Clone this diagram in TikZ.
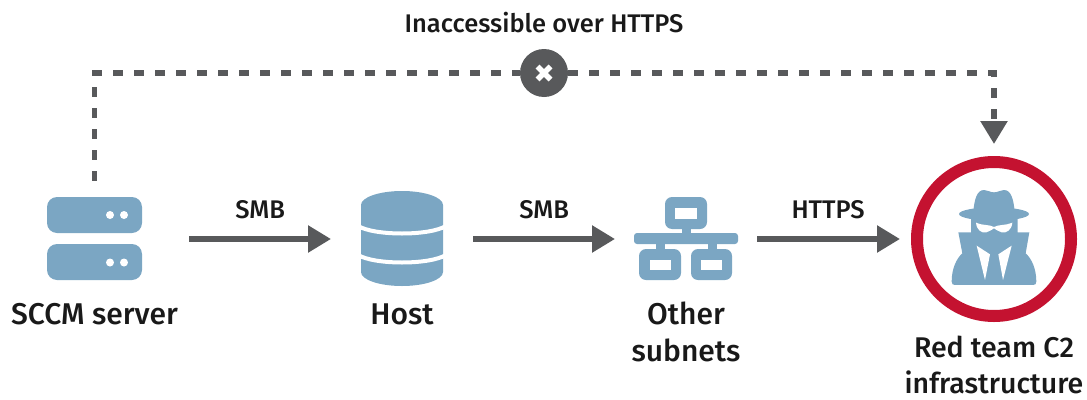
\documentclass[tikz,border=0pt]{standalone}
\usepackage{fontspec}
\setmainfont{Fira Sans}[UprightFont={* Medium}]
\usetikzlibrary{arrows.meta, positioning}
\definecolor{iconblue}{HTML}{7BA6C3}
\definecolor{arrowgray}{HTML}{58595B}
\definecolor{ringred}{HTML}{C41230}

\begin{document}
\begin{tikzpicture}[
			x=1pt, y=-1pt,
			iconbox/.style={inner sep=0pt, outer sep=0pt},
			bigtext/.style={align=center, inner sep=0pt, text=black!90, font=\fontsize{30}{37}\selectfont},
			smalltext/.style={inner sep=0pt, text=black!90, font=\fontsize{25.5}{30}\selectfont},
			conn/.style={-{Triangle[length=23pt,width=26pt]}, arrowgray, line width=5.5pt},
			dashconn/.style={arrowgray, line width=5.5pt, dash pattern=on 10pt off 11pt},
			part/.style={fill=iconblue, draw=none},
			hole/.style={fill=white, draw=none}
			]
			\useasboundingbox (0,0) rectangle (1087,399);
			
			% Icon places
			\node[iconbox, minimum width=95pt, minimum height=83pt] (server) at (94.5,239) {};
			\node[iconbox, minimum width=82pt, minimum height=95pt] (host) at (402,239) {};
			\node[iconbox, minimum width=104pt, minimum height=83pt] (subnets) at (686,239) {};
			\node[iconbox, circle, draw=ringred, line width=12pt, minimum size=154pt] (redteam) at (994,239) {};
			\node[iconbox, circle, fill=arrowgray, minimum size=48pt] (blocked) at (544,73) {};
			
			% Labels
			\node[bigtext, below=23pt of server] (serverlabel) {SCCM server};
			\node[bigtext, below=17pt of host] (hostlabel) {Host};
			\node[bigtext, below=21pt of subnets] (subnetslabel) {Other\\subnets};
			\node[bigtext, font=\fontsize{28.5}{36}\selectfont, below=20pt of redteam] (redteamlabel) {Red team C2\\infrastructure};
			\node[smalltext, above=16pt of blocked] (blockedlabel) {Inaccessible over HTTPS};
			
			% Server
			\fill[part, rounded corners=10pt] (47,197) rectangle (142,233);
			\fill[part, rounded corners=10pt] (47,244) rectangle (142,280);
			\foreach \dotx in {110,124} {
				\fill[white] (\dotx,215) circle (4pt);
				\fill[white] (\dotx,262.5) circle (4pt);
			}
			
			% Host
			\fill[part] (361,205) arc[start angle=180, end angle=360, x radius=41, y radius=14]
				-- (443,272) arc[start angle=0, end angle=180, x radius=41, y radius=14] -- cycle;
			\draw[white, line width=4pt] (358,226) .. controls (375,236) and (429,236) .. (446,226);
			\draw[white, line width=4pt] (358,255) .. controls (375,265) and (429,265) .. (446,255);
			
			% Other subnets
			\fill[part, rounded corners=3pt] (634,233) rectangle (738,244);
			\fill[part] (682,225) rectangle (691,238);
			\fill[part] (655.5,240) rectangle (664.5,252);
			\fill[part] (707.5,240) rectangle (716.5,252);
			\fill[part, rounded corners=7pt] (665,197) rectangle (707,229);
			\fill[part, rounded corners=7pt] (639,249) rectangle (681,280);
			\fill[part, rounded corners=7pt] (691,249) rectangle (732,280);
			\fill[hole] (675,208) rectangle (697,219);
			\fill[hole] (650,260) rectangle (671,270);
			\fill[hole] (701,260) rectangle (722,270);
			
			% Spy
			\begin{scope}[shift={(945,185)}, scale=0.3333]
				\fill[part] (147,87) ellipse [x radius=105, y radius=20];
				\fill[part] (85,80) .. controls (88,45) and (95,15) .. (117,15)
					.. controls (127,15) and (135,22) .. (147,22)
					.. controls (159,22) and (167,15) .. (177,15)
					.. controls (199,15) and (206,45) .. (209,80) -- cycle;
				\fill[part] (78,100) -- (78,142) -- (40,142) -- (52,205)
					.. controls (35,220) and (20,250) .. (20,290)
					.. controls (20,297) and (23,300) .. (30,300) -- (264,300)
					.. controls (271,300) and (274,297) .. (274,290)
					.. controls (274,250) and (259,220) .. (242,205)
					-- (253,142) -- (218,142) -- (218,100) -- cycle;
				\fill[hole] (93,113) .. controls (110,122) and (135,118) .. (147,126)
					.. controls (159,118) and (184,122) .. (202,113)
					.. controls (200,135) and (185,145) .. (170,142)
					.. controls (160,140) and (153,133) .. (147,130)
					.. controls (141,133) and (134,140) .. (124,142)
					.. controls (109,145) and (95,135) .. (93,113) -- cycle;
				\fill[hole] (95,182) -- (135,208) -- (120,285) -- cycle;
				\fill[hole] (200,182) -- (160,208) -- (174,285) -- cycle;
			\end{scope}
			
			% Cross
			\draw[white, line width=5.5pt] (blocked.center) +(-6.5,-6.5) -- +(6.5,6.5);
			\draw[white, line width=5.5pt] (blocked.center) +(-6.5,6.5) -- +(6.5,-6.5);
			
			% Arrows
			\draw[conn, shorten <=47pt, shorten >=30pt] (server) -- (host) node[pos=0.54, above=17pt, smalltext] (smbone) {SMB};
			\draw[conn, shorten <=30pt, shorten >=19pt] (host) -- (subnets) node[pos=0.53, above=17pt, smalltext] (smbtwo) {SMB};
			\draw[conn, shorten <=19pt, shorten >=17pt] (subnets) -- (redteam) node[pos=0.503, above=17pt, smalltext] (https) {HTTPS};
			
			\draw[dashconn, shorten <=17pt] (server.north) |- (blocked.west);
			\draw[dashconn, shorten >=18pt, -{Triangle[length=23pt,width=26pt]}] (blocked.east) -| (redteam.north);
			
		\end{tikzpicture}
\end{document}
